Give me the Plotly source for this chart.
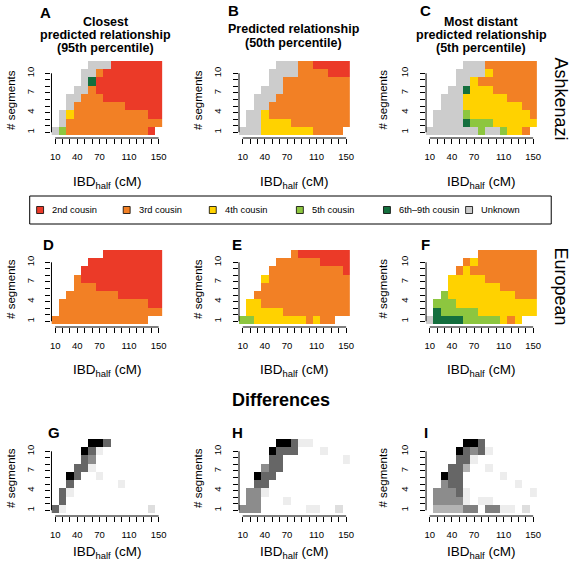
import plotly.graph_objects as go

# ---------------- data ----------------
ibd_cm = [10, 20, 30, 40, 50, 60, 70, 80, 90, 100, 110, 120, 130, 140, 150]
cm_tick_text = ["10", "", "", "40", "", "", "70", "", "", "", "110", "", "", "", "150"]
seg_rows = [0, 1, 2, 3, 4, 5, 6, 7, 8]            # segment-count bins, bottom to top
seg_ticks = [1, 2, 3, 4, 5, 6, 7, 8, 9, 10]
seg_tick_text = ["1", "", "", "4", "", "", "7", "", "", "10"]

relationships = ["2nd cousin", "3rd cousin", "4th cousin", "5th cousin",
                 "6th\u20139th cousin", "Unknown"]
rel_colors = ["#EB3A28", "#F28025", "#FFD200", "#8DC63F", "#146F3E", "#CCCCCC"]
rel_code = {"R": 1, "O": 2, "Y": 3, "L": 4, "D": 5, "G": 6}

# rows listed from top (row 8) to bottom (row 0); one letter per IBD column, "." = empty
ashk_95 = [".....GGGRRRRRRR",
           "....GGORRRRRRRR",
           "....GDRRRRRRRRR",
           "...GGORRRRRRRRR",
           "..GGOOORRRRRRRR",
           "..GOOOOOOORRRRR",
           ".GYOOOOOOOOOORR",
           ".GOOOOOOOOOOOOO",
           "GLOOOOOOOOOOOR."]
ashk_50 = [".....GGGOORRRRR",
           "....GGGGOOOORRR",
           "....GGOOOOOOOOO",
           "...GGGOOOOOOOOO",
           "..GGGOOOOOOOOOO",
           "..GGOOOOOOOOOOO",
           ".GGYOOOOOOOOOOO",
           ".GGYYYYOOOOOOOO",
           "GGGYYYYYYYOOOO."]
ashk_05 = [".....GGGOOOOOOO",
           "....GGGGYOOOOOO",
           "....GGYOOOOOOOO",
           "...GGDYYYOOOOOO",
           "..GGGYYYYYYOOOO",
           "..GGGYYYYYYYYOO",
           ".GGGGLYYYYYYYYO",
           ".GGGGDLLLYYYYYY",
           "GGGGGGGLGGLYYO."]
euro_95 = [".......RRRRRRRR",
           ".....RRRRRRRRRR",
           "....RRRRRRRRRRR",
           "...ORRRRRRRRRRR",
           "...OOORRRRRRRRR",
           "..OOOOOOORRRRRR",
           ".OOOOOOOOOOOORR",
           ".OOOOOOOOOOOOOO",
           "OOOOOOOOOOOOO.."]
euro_50 = [".......ORRRRRRR",
           ".....OOOOOORRRR",
           "....OOOOOOOOOOR",
           "...YOOOOOOOOOOO",
           "...OOOOOOOOOOOO",
           "..OOOOOOOOOOOOO",
           ".YYOOOOOOOOOOOO",
           ".YYYYYOOOOOOOOO",
           "LLYYYYYYYOYOO.."]
euro_05 = [".......OOOOOOOO",
           ".....OYOOOOOOOO",
           "....OYOOOOOOOOO",
           "...YYYYYOOOOOOO",
           "...YYYYYYYOOOOO",
           "..LYYYYYYYYYOOO",
           ".LLLYYYYYYYYYYY",
           ".DLLLLLYYYYYYYY",
           "GDDDDLLLLLYOY.."]

# differences (grey level 0 = none ... 10 = black), rows top to bottom
diff_95 = [[0, 0, 0, 0, 0, 10, 10, 6, 0, 0, 0, 0, 0, 0, 0],
           [0, 0, 0, 0, 10, 6, 0.7, 0, 0, 0, 0, 0, 0, 0, 0],
           [0, 0, 0, 0, 6, 4.5, 0, 0, 0, 0, 0, 0, 0, 0, 0],
           [0, 0, 0, 6, 6, 0.7, 0, 0, 0, 0, 0, 0, 0, 0, 0],
           [0, 0, 10, 6, 0, 0, 0.7, 0, 0, 0, 0, 0, 0, 0, 0],
           [0, 0, 6, 0, 0, 0, 0, 0, 0, 0.7, 0, 0, 0, 0, 0],
           [0, 6, 0.7, 0, 0, 0, 0, 0, 0, 0, 0, 0, 0, 0, 0],
           [0, 6, 0, 0, 0, 0, 0, 0, 0, 0, 0, 0, 0, 0, 0],
           [6, 0.7, 0, 0, 0, 0, 0, 0, 0, 0, 0, 0, 0, 1.3, 0]]
diff_50 = [[0, 0, 0, 0, 0, 10, 10, 6, 0.7, 0.7, 0, 0, 0, 0, 0],
           [0, 0, 0, 0, 10, 6, 6, 6, 0, 0, 0, 0.7, 0, 0, 0],
           [0, 0, 0, 0, 6, 6, 0, 0, 0, 0, 0, 0, 0, 0, 0.7],
           [0, 0, 0, 4.5, 6, 6, 0, 0, 0, 0, 0, 0, 0, 0, 0],
           [0, 0, 10, 6, 6, 0, 0, 0, 0, 0, 0, 0, 0, 0, 0],
           [0, 0, 6, 6, 0, 0, 0, 0, 0, 0, 0, 0, 0, 0, 0],
           [0, 4.5, 4.5, 0.7, 0, 0, 0, 0, 0, 0, 0, 0, 0, 0, 0],
           [0, 4.5, 4.5, 0, 0, 0, 0.7, 0, 0, 0, 0, 0, 0, 0, 0],
           [4.5, 4.5, 4.5, 0, 0, 0, 0, 0, 0, 0.7, 0.7, 0, 0, 1.3, 0]]
diff_05 = [[0, 0, 0, 0, 0, 10, 10, 6, 0, 0, 0, 0, 0, 0, 0],
           [0, 0, 0, 0, 10, 6, 4.5, 6, 0.7, 0, 0, 0, 0, 0, 0],
           [0, 0, 0, 0, 6, 6, 0.7, 0, 0, 0, 0, 0, 0, 0, 0],
           [0, 0, 0, 6, 6, 3, 0, 0, 0.7, 0, 0, 0, 0, 0, 0],
           [0, 0, 10, 6, 6, 0, 0, 0, 0, 0, 0.7, 0, 0, 0, 0],
           [0, 0, 4.5, 6, 6, 0, 0, 0, 0, 0, 0, 0, 0.7, 0, 0],
           [0, 4.5, 4.5, 4.5, 6, 0.7, 0, 0, 0, 0, 0, 0, 0, 0, 0.7],
           [0, 4.5, 4.5, 4.5, 4.5, 0.7, 0, 0.7, 0.7, 0, 0, 0, 0, 0, 0],
           [0, 3, 3, 3, 3, 5, 5, 0, 5, 5, 0.7, 0.7, 0, 1.3, 0]]

# ---------------- figure ----------------
W, H = 576, 563
FONT = "Liberation Sans, Arial, sans-serif"


def fx(p):
    return p / W


def fy(p):
    return 1 - p / H


col_px = [(50, 162), (239.5, 351.5), (428.5, 540.5)]
row_px = [(61, 138), (250, 327), (439, 516)]
ylab_x = [8.5, 197.5, 384]
xtitle_y = [182, 370, 552]

# tick positions of the segment axis, expressed in row units
seg_tick_pos = [-0.17 + 0.797 * (t - 1) for t in seg_ticks]

cat_scale = []
for i, c in enumerate(rel_colors):
    cat_scale.append([i / 6, c])
    cat_scale.append([(i + 1) / 6, c])
grey_scale = [[0, "#FFFFFF"], [1, "#000000"]]


def cat_z(rows):
    return [[rel_code.get(ch) for ch in r] for r in reversed(rows)]


def diff_z(rows):
    return [[(v if v > 0 else None) for v in r] for r in reversed(rows)]


panels = [
    (cat_z(ashk_95), "cat"), (cat_z(ashk_50), "cat"), (cat_z(ashk_05), "cat"),
    (cat_z(euro_95), "cat"), (cat_z(euro_50), "cat"), (cat_z(euro_05), "cat"),
    (diff_z(diff_95), "grey"), (diff_z(diff_50), "grey"), (diff_z(diff_05), "grey"),
]

fig = go.Figure()
layout = {}
shapes = []
annotations = []

for k, (z, kind) in enumerate(panels):
    n = k + 1
    r, c = divmod(k, 3)
    sx = "" if n == 1 else str(n)
    if kind == "cat":
        tr = go.Heatmap(z=z, x=ibd_cm, y=seg_rows, colorscale=cat_scale,
                        zmin=0.5, zmax=6.5, showscale=False, hoverinfo="skip")
    else:
        tr = go.Heatmap(z=z, x=ibd_cm, y=seg_rows, colorscale=grey_scale,
                        zmin=0, zmax=10, showscale=False, hoverinfo="skip")
    tr.update(xaxis="x" + sx, yaxis="y" + sx)
    fig.add_trace(tr)

    x0, x1 = col_px[c]
    y0, y1 = row_px[r]
    layout["xaxis" + sx] = dict(
        domain=[fx(x0), fx(x1)], anchor="y" + sx, range=[5, 155],
        tickmode="array", tickvals=ibd_cm, ticktext=cm_tick_text,
        ticks="outside", ticklen=5, tickwidth=1, tickcolor="#000",
        showline=False, showgrid=False, zeroline=False,
        tickfont=dict(family=FONT, size=9.5, color="#000"),
        ticklabelstandoff=5, fixedrange=True)
    layout["yaxis" + sx] = dict(
        domain=[fy(y1), fy(y0)], anchor="x" + sx, range=[-0.865, 8.5],
        tickmode="array", tickvals=seg_tick_pos, ticktext=seg_tick_text,
        tickangle=-90, ticks="outside", ticklen=5, tickwidth=1, tickcolor="#000",
        showline=False, showgrid=False, zeroline=False,
        tickfont=dict(family=FONT, size=9.5, color="#000"),
        ticklabelstandoff=8, fixedrange=True)

    # axis lines spanning first to last tick
    shapes.append(dict(type="line", xref="x" + sx, yref="y" + sx + " domain",
                       x0=ibd_cm[0], x1=ibd_cm[-1], y0=0, y1=0,
                       line=dict(color="#000", width=1)))
    shapes.append(dict(type="line", xref="x" + sx + " domain", yref="y" + sx,
                       x0=0, x1=0, y0=seg_tick_pos[0], y1=seg_tick_pos[-1],
                       line=dict(color="#000", width=1)))

    # axis titles
    annotations.append(dict(text="IBD<sub>half</sub> (cM)", x=fx((x0 + x1) / 2),
                            y=fy(xtitle_y[r]), xref="paper", yref="paper",
                            showarrow=False, xanchor="center", yanchor="middle",
                            font=dict(family=FONT, size=13.5, color="#000")))
    annotations.append(dict(text="# segments", x=fx(ylab_x[c]), y=fy((y0 + y1) / 2),
                            xref="paper", yref="paper", showarrow=False,
                            textangle=-90, xanchor="center", yanchor="middle",
                            font=dict(family=FONT, size=11.5, color="#000")))


def txt(s, x, y, size, bold=False, angle=0):
    annotations.append(dict(text=("<b>%s</b>" % s) if bold else s,
                            x=fx(x), y=fy(y), xref="paper", yref="paper",
                            showarrow=False, xanchor="center", yanchor="middle",
                            textangle=angle,
                            font=dict(family=FONT, size=size, color="#000")))


# panel letters
letters = ["A", "B", "C", "D", "E", "F", "G", "H", "I"]
letter_xy = [(44, 12), (234, 10.5), (428, 10.5), (47, 244), (237.5, 244.5),
             (427.5, 244.5), (53, 432.5), (237.5, 432.5), (428.5, 432.5)]
for L, (lx, ly) in zip(letters, letter_xy):
    txt(L, lx, ly, 15, bold=True)

# panel titles
for s, y in zip(["Closest", "predicted relationship", "(95th percentile)"], [21.7, 35, 48.3]):
    txt(s, 105, y, 12.5, bold=True)
for s, y in zip(["Predicted relationship", "(50th percentile)"], [29.3, 42.7]):
    txt(s, 295, y, 12.5, bold=True)
for s, y in zip(["Most distant", "predicted relationship", "(5th percentile)"], [21.7, 35, 48.3]):
    txt(s, 484.5, y, 12.5, bold=True)

txt("Ashkenazi", 565, 98.5, 18, angle=90)
txt("European", 565, 286.5, 18, angle=90)
txt("Differences", 282, 400, 18, bold=True)

# legend box
shapes.append(dict(type="rect", xref="paper", yref="paper",
                   x0=fx(28), x1=fx(555), y0=fy(224), y1=fy(196),
                   line=dict(color="#000", width=1), fillcolor="rgba(0,0,0,0)"))
legend_x = [38.5, 126, 213, 301, 389, 472]
for name, col, lx in zip(relationships, rel_colors, legend_x):
    shapes.append(dict(type="rect", xref="paper", yref="paper",
                       x0=fx(lx - 3.5), x1=fx(lx + 3.5), y0=fy(213.5), y1=fy(206.5),
                       line=dict(color="#000", width=0.8), fillcolor=col))
    annotations.append(dict(text=name, x=fx(lx + 10.5), y=fy(210), xref="paper",
                            yref="paper", showarrow=False, xanchor="left",
                            yanchor="middle",
                            font=dict(family=FONT, size=9.3, color="#000")))

fig.update_layout(width=W, height=H, margin=dict(l=0, r=0, t=0, b=0),
                  paper_bgcolor="white", plot_bgcolor="white",
                  showlegend=False, shapes=shapes, annotations=annotations,
                  **layout)

fig.write_html("out.html", config={"displayModeBar": False},
               post_script="document.body.style.margin='0';"
                           "document.body.style.padding='0';"
                           "document.body.style.overflow='hidden';")
